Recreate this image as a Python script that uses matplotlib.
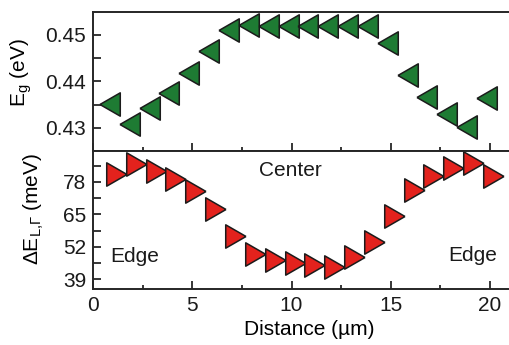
import numpy as np
import matplotlib
matplotlib.use('Agg')
import matplotlib.pyplot as plt
from matplotlib.ticker import MultipleLocator, FixedLocator

plt.rcParams['font.family'] = ['Liberation Sans', 'DejaVu Sans']
plt.rcParams['mathtext.default'] = 'regular'
plt.rcParams['font.size'] = 15

# data
distance = [1, 2, 3, 4, 5, 6, 7, 8, 9, 10, 11, 12, 13, 14, 15, 16, 17, 18, 19, 20]
eg = [0.4352, 0.4309, 0.4342, 0.4374, 0.4417, 0.4466, 0.4511, 0.4521, 0.4520, 0.4520,
      0.4520, 0.4520, 0.4520, 0.4520, 0.4482, 0.4414, 0.4367, 0.4329, 0.4302, 0.4363]
delta_e = [81.3, 85.3, 82.4, 79.3, 74.4, 67.3, 56.2, 49.0, 46.7, 45.5,
           44.7, 44.0, 48.0, 54.0, 64.3, 74.7, 80.3, 83.7, 85.7, 80.3]
eg_ticks = [0.43, 0.44, 0.45]
de_ticks = [39, 52, 65, 78]
x_ticks = [0, 5, 10, 15, 20]

ink = '#262626'
# triangles with centroid at the origin (like Origin draws them)
w, h = 20.0, 23.0
tri_left = [(-2 * w / 3, 0), (w / 3, -h / 2), (w / 3, h / 2), (-2 * w / 3, 0)]
tri_right = [(2 * w / 3, 0), (-w / 3, h / 2), (-w / 3, -h / 2), (2 * w / 3, 0)]

fig = plt.figure(figsize=(5.09, 3.45), dpi=100)
W, H = 509, 345
left = 93 / W
mid = (H - 150.5) / H
ax1 = fig.add_axes([left, mid, 1 - left, (150.5 - 12) / H])
ax2 = fig.add_axes([left, (H - 289) / H, 1 - left, (289 - 150.5) / H])

ax1.plot(distance, eg, ls='none', marker=tri_left, ms=19.5,
         mfc='#1e7b33', mec='#1b1b1b', mew=1.1)
ax2.plot(distance, delta_e, ls='none', marker=tri_right, ms=19.5,
         mfc='#e3221d', mec='#1b1b1b', mew=1.1)

xmax = (W - 93) / 19.85
for ax in (ax1, ax2):
    ax.set_xlim(0, xmax)
    ax.spines['right'].set_visible(False)
    for s in ('left', 'top', 'bottom'):
        ax.spines[s].set_linewidth(1.4)
        ax.spines[s].set_color(ink)
    ax.xaxis.set_major_locator(FixedLocator(x_ticks))
    ax.xaxis.set_minor_locator(MultipleLocator(2.5))
    ax.tick_params(axis='both', which='both', direction='in', colors=ink,
                   labelcolor='#1a1a1a', width=1.3)
    ax.tick_params(axis='x', which='major', length=6, pad=5)
    ax.tick_params(axis='x', which='minor', length=3)
    ax.tick_params(axis='y', which='both', length=5.5, pad=5)
    ax.tick_params(top=False, right=False, which='both')

ax1.set_ylim(0.42508, 0.45496)
ax1.yaxis.set_major_locator(FixedLocator(eg_ticks))
ax1.yaxis.set_minor_locator(MultipleLocator(0.005))
ax1.set_yticklabels(['%.2f' % v for v in eg_ticks])
ax1.tick_params(axis='x', labelbottom=False)
ax1.set_ylabel('E$_g$ (eV)')
ax1.yaxis.set_label_coords(-0.142, 0.565)

ax2.set_ylim(35.1, 90.5)
ax2.yaxis.set_major_locator(FixedLocator(de_ticks))
ax2.yaxis.set_minor_locator(MultipleLocator(6.5))
ax2.set_ylabel(r'ΔE$_{L{,}Γ}$ (meV)')
ax2.yaxis.set_label_coords(-0.113, 0.58)
ax2.set_xlabel('Distance (µm)')
ax2.xaxis.set_label_coords(0.52, -0.225)

ax2.text(9.92, 82.7, 'Center', ha='center', va='center', color='#1a1a1a')
ax2.text(2.12, 48.3, 'Edge', ha='center', va='center', color='#1a1a1a')
ax2.text(19.14, 48.6, 'Edge', ha='center', va='center', color='#1a1a1a')

fig.savefig('out.png', dpi=100)
